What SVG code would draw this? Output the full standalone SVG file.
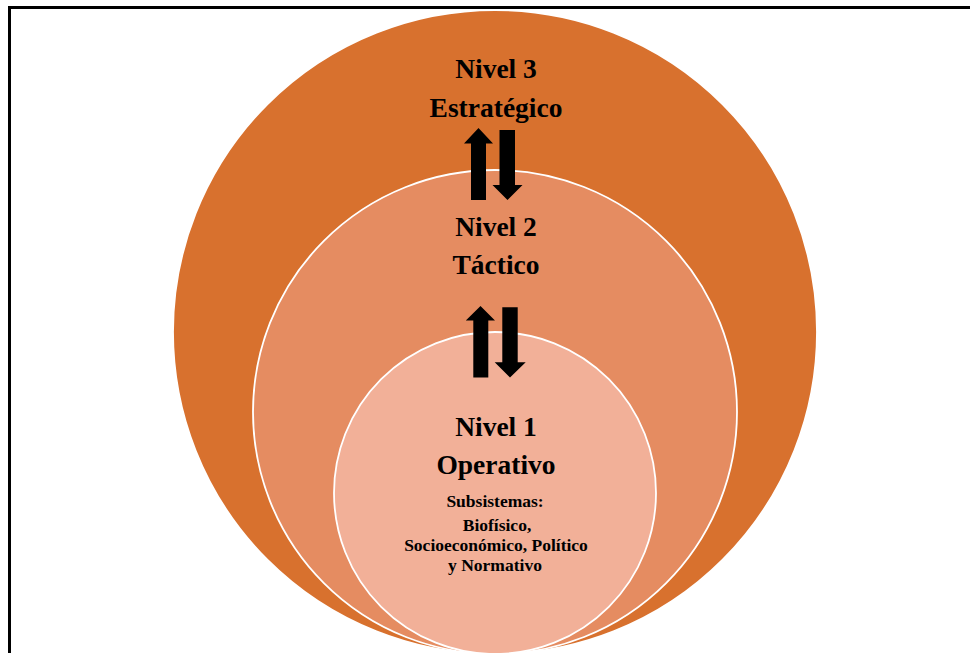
<svg xmlns="http://www.w3.org/2000/svg" width="970" height="653" viewBox="0 0 970 653">
<style>
.lvl{stroke:#ffffff;stroke-width:1.8}
.t{font-family:"Liberation Serif","Times New Roman",serif;font-weight:bold;fill:#000;text-anchor:middle}
.big{font-size:27.5px}
.small{font-size:17.5px}
.arr{fill:#000}
</style>
<rect x="0" y="0" width="970" height="653" fill="#ffffff"/>
<rect x="9.5" y="7.5" width="980" height="680" fill="none" stroke="#000" stroke-width="3"/>
<g id="nivel3">
<circle class="lvl" cx="495" cy="332" r="322" fill="#D8712E"/>
<text class="t big" x="496" y="78">Nivel 3</text>
<text class="t big" x="496" y="117">Estratégico</text>
</g>
<g id="nivel2">
<circle class="lvl" cx="495" cy="412" r="242" fill="#E58C61"/>
<text class="t big" x="496" y="236">Nivel 2</text>
<text class="t big" x="496" y="274">Táctico</text>
</g>
<g id="nivel1">
<circle class="lvl" cx="495" cy="493" r="161" fill="#F2B098"/>
<text class="t big" x="496" y="436">Nivel 1</text>
<text class="t big" x="496" y="474">Operativo</text>
<text class="t small" x="495" y="507">Subsistemas:</text>
<text class="t small" x="497" y="530.5">Biofísico,</text>
<text class="t small" x="496" y="550.5">Socioeconómico, Político</text>
<text class="t small" x="495" y="570.5">y Normativo</text>
</g>
<g id="connectors">
<path class="arr" d="M478.5 128 L493 143.5 L486 143.5 L486 200 L471 200 L471 143.5 L464 143.5 Z"/>
<path class="arr" d="M507.5 200 L522.5 185 L515 185 L515 130 L499.5 130 L499.5 185 L492.5 185 Z"/>
<path class="arr" d="M480.5 306 L495 320.5 L488.3 320.5 L488.3 377.5 L473.3 377.5 L473.3 320.5 L465.8 320.5 Z"/>
<path class="arr" d="M510 377.5 L525.7 362.3 L517.7 362.3 L517.7 307.3 L502.3 307.3 L502.3 362.3 L494.7 362.3 Z"/>
</g>
</svg>
